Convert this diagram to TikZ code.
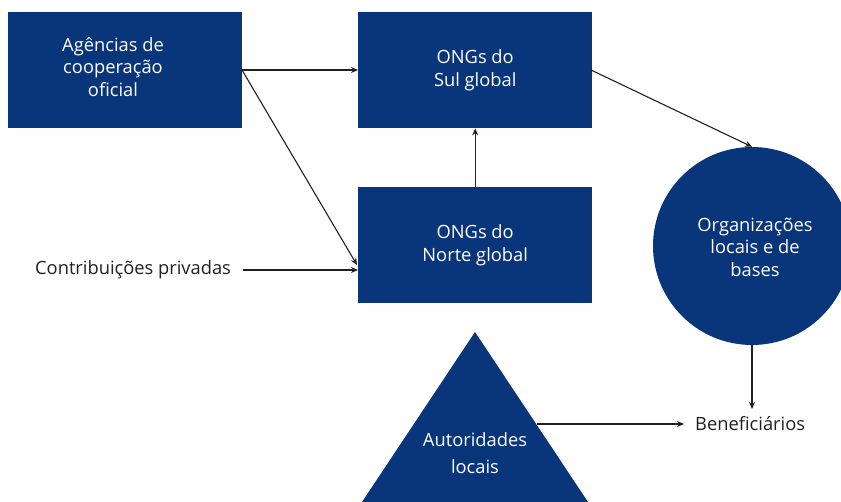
\documentclass[tikz,border=0pt]{standalone}
\usepackage{fontspec}
\setmainfont{Open Sans}
\usetikzlibrary{arrows.meta}
\definecolor{navy}{RGB}{9,53,122}
\definecolor{ink}{RGB}{35,31,32}
\tikzset{
  box/.style={fill=navy, text=white, minimum width=234pt, minimum height=116pt, inner sep=0pt, align=center, font=\fontsize{18.3}{22.5}\selectfont, anchor=north west},
  wtxt/.style={text=white, align=center, inner sep=0pt, font=\fontsize{18.3}{22.5}\selectfont},
  lbl/.style={text=ink, font=\fontsize{18.3}{22.5}\selectfont, inner sep=0pt},
  conn/.style={draw=ink, line width=1.1pt, -{Stealth[length=7pt,width=6pt]}},
}
\begin{document}
\begin{tikzpicture}[x=1pt,y=-1pt]
\useasboundingbox (0,0) rectangle (841,502);
\clip (0,0) rectangle (841,502);
\node[box] (agc) at (8,12) {};
\node[wtxt] (agcT) at (113,67) {Agências de\\cooperação\\oficial};
\node[box] (sul) at (358,12) {ONGs do\\Sul global};
\node[box] (norte) at (358,187) {ONGs do\\Norte global};
\node[circle, fill=navy, minimum size=198pt, inner sep=0pt] (org) at (752,246) {};
\node[wtxt] (orgT) at (755,247) {Organizações\\locais e de\\bases};
\fill[navy] (475,332) -- (475+113*1.3,332+170*1.3) -- (475-113*1.3,332+170*1.3) -- cycle;
\node[wtxt, font=\fontsize{18.3}{27}\selectfont] (aut) at (475,453) {Autoridades\\locais};
\coordinate (autR) at (537,424);
\node[lbl, anchor=west] (ben) at (695,424) {Beneficiários};
\node[lbl, anchor=west] (cp) at (35,270) {Contribuições privadas};
\coordinate (agcE) at (242,70);
\coordinate (cpE) at (243,270);
\draw[conn] (agcE) -- (sul.west |- agcE);
\draw[conn] (agcE) -- (357,265);
\draw[conn] (cpE) -- (norte.west |- cpE);
\draw[conn] (norte.north) -- (sul.south);
\draw[conn] (591,70) -- (org.north);
\draw[conn] (org.south) -- (752,409);
\draw[conn] (autR) -- ([xshift=-11pt]ben.west);
\end{tikzpicture}
\end{document}
